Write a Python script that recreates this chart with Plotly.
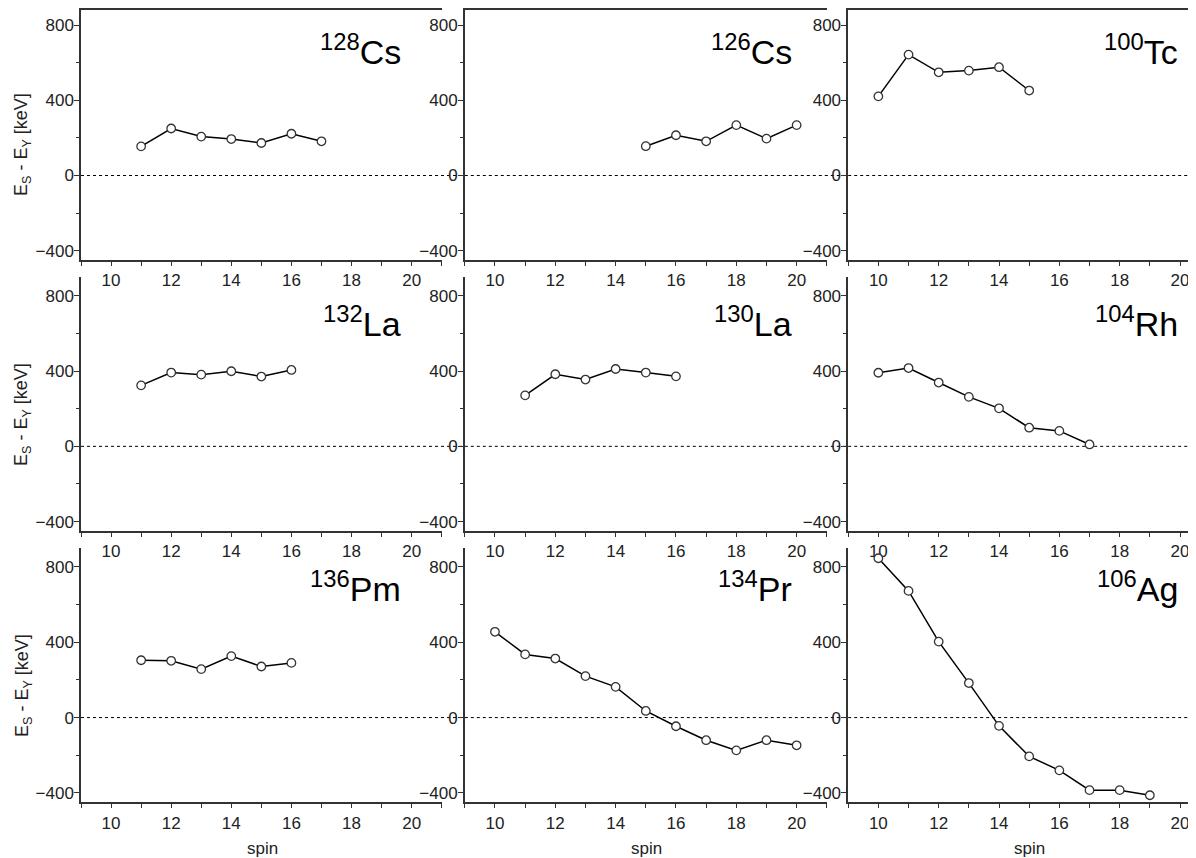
import plotly.graph_objects as go

# ---------------- data ----------------
nuclide_mass = ["128", "126", "100", "132", "130", "104", "136", "134", "106"]
nuclide_elem = ["Cs", "Cs", "Tc", "La", "La", "Rh", "Pm", "Pr", "Ag"]

spin_128Cs = [11, 12, 13, 14, 15, 16, 17]
de_128Cs = [155, 250, 207, 194, 173, 222, 182]

spin_126Cs = [15, 16, 17, 18, 19, 20]
de_126Cs = [156, 214, 182, 268, 196, 268]

spin_100Tc = [10, 11, 12, 13, 14, 15]
de_100Tc = [421, 643, 549, 558, 576, 452]

spin_132La = [11, 12, 13, 14, 15, 16]
de_132La = [324, 392, 381, 399, 371, 406]

spin_130La = [11, 12, 13, 14, 15, 16]
de_130La = [271, 383, 355, 411, 392, 372]

spin_104Rh = [10, 11, 12, 13, 14, 15, 16, 17]
de_104Rh = [391, 416, 339, 263, 202, 99, 82, 10]

spin_136Pm = [11, 12, 13, 14, 15, 16]
de_136Pm = [304, 301, 257, 326, 271, 290]

spin_134Pr = [10, 11, 12, 13, 14, 15, 16, 17, 18, 19, 20]
de_134Pr = [455, 335, 313, 220, 163, 35, -46, -120, -174, -120, -147]

spin_106Ag = [10, 11, 12, 13, 14, 15, 16, 17, 18, 19]
de_106Ag = [845, 672, 403, 183, -44, -206, -280, -385, -385, -412]

x_tick_vals = [10, 12, 14, 16, 18, 20]
y_tick_vals = [-400, 0, 400, 800]
y_title = "E<sub>S</sub> - E<sub>Y</sub> [keV]"
x_title = "spin"

series = [
    (spin_128Cs, de_128Cs), (spin_126Cs, de_126Cs), (spin_100Tc, de_100Tc),
    (spin_132La, de_132La), (spin_130La, de_130La), (spin_104Rh, de_104Rh),
    (spin_136Pm, de_136Pm), (spin_134Pr, de_134Pr), (spin_106Ag, de_106Ag),
]

# ---------------- layout geometry (viewport pixels) ----------------
OFF = 8                      # default page body margin
W, H = 1196 - OFF, 858 - OFF
def px(p):
    return (p - OFF) / W
def py(p):
    return 1 - (p - OFF) / H

col_px = [(81, 441.7), (464.8, 826.8), (848.2, 1196)]
col_range = [[9, 21], [9, 21], [9, 20.53]]
row_px = [(9.5, 260.1), (277, 531), (547.9, 802.4)]
row_yrange = [[-450, 883], [-450, 900], [-450, 900]]
label_x_px = [403, 794, 1180]
label_bottom_px = [73, 345, 610]
ytitle_y_px = [145, 415, 686]
xtitle_x_px = [262, 646, 1029]

FONT = "Liberation Sans, Arial, sans-serif"
AX = "#333333"
TICKFONT = dict(family=FONT, size=17, color="#222222")

fig = go.Figure()
annotations = []
shapes = []

for i, (xs, ys) in enumerate(series):
    r, c = divmod(i, 3)
    n = i + 1
    xa = "x" if n == 1 else f"x{n}"
    ya = "y" if n == 1 else f"y{n}"
    fig.add_trace(go.Scatter(
        x=xs, y=ys, xaxis=xa, yaxis=ya, mode="lines+markers",
        line=dict(color="black", width=1.5),
        marker=dict(symbol="circle", size=8.5, color="white",
                    line=dict(color="#333333", width=1.3)),
        showlegend=False, cliponaxis=False,
    ))
    xkey = "xaxis" if n == 1 else f"xaxis{n}"
    ykey = "yaxis" if n == 1 else f"yaxis{n}"
    fig.layout[xkey] = dict(
        domain=[px(col_px[c][0]), px(col_px[c][1])],
        range=col_range[c], anchor=ya,
        tickmode="array", tickvals=x_tick_vals,
        ticks="outside", ticklen=4, tickwidth=1, tickcolor=AX,
        minor=dict(dtick=1, tick0=9, ticks="outside", ticklen=4,
                   tickwidth=1, tickcolor=AX, showgrid=False),
        showline=True, linecolor=AX, linewidth=1.5,
        mirror=(r == 0),
        showgrid=False, zeroline=False,
        tickfont=TICKFONT,
    )
    fig.layout[ykey] = dict(
        domain=[py(row_px[r][1]), py(row_px[r][0])],
        range=row_yrange[r], anchor=xa,
        tickmode="array", tickvals=y_tick_vals,
        ticks="outside", ticklen=5, tickwidth=1, tickcolor=AX,
        minor=dict(dtick=200, tick0=0, ticks="outside", ticklen=3,
                   tickwidth=1, tickcolor=AX, showgrid=False),
        showline=True, linecolor=AX, linewidth=1.5,
        showgrid=False, zeroline=False,
        tickfont=TICKFONT, ticklabelstandoff=-3,
    )
    # dotted zero line reaching to the next panel's axis
    x_end = col_px[c + 1][0] if c < 2 else 1196
    shapes.append(dict(
        type="line", xref="paper", yref=ya,
        x0=px(col_px[c][0]), x1=px(x_end), y0=0, y1=0,
        line=dict(color="black", width=1, dash="dot"), layer="below",
    ))
    # nuclide label
    annotations.append(dict(
        xref="paper", yref="paper",
        x=px(label_x_px[c]), y=py(label_bottom_px[r]),
        xanchor="right", yanchor="bottom", showarrow=False,
        text=f"<sup>{nuclide_mass[i]}</sup>{nuclide_elem[i]}",
        font=dict(family=FONT, size=34, color="black"),
    ))

# y-axis titles (left column)
for r in range(3):
    annotations.append(dict(
        xref="paper", yref="paper", x=px(23), y=py(ytitle_y_px[r]),
        xanchor="center", yanchor="middle", showarrow=False, textangle=-90,
        text=y_title, font=dict(family=FONT, size=18, color="#222222"),
    ))

# x-axis titles (bottom row)
for xc in xtitle_x_px:
    annotations.append(dict(
        xref="paper", yref="paper", x=px(xc), y=py(848),
        xanchor="center", yanchor="middle", showarrow=False,
        text=x_title, font=dict(family=FONT, size=17, color="#222222"),
    ))

fig.update_layout(
    width=W, height=H, margin=dict(l=0, r=0, t=0, b=0),
    paper_bgcolor="white", plot_bgcolor="white",
    annotations=annotations, shapes=shapes, showlegend=False,
)

fig.write_html("out.html")
